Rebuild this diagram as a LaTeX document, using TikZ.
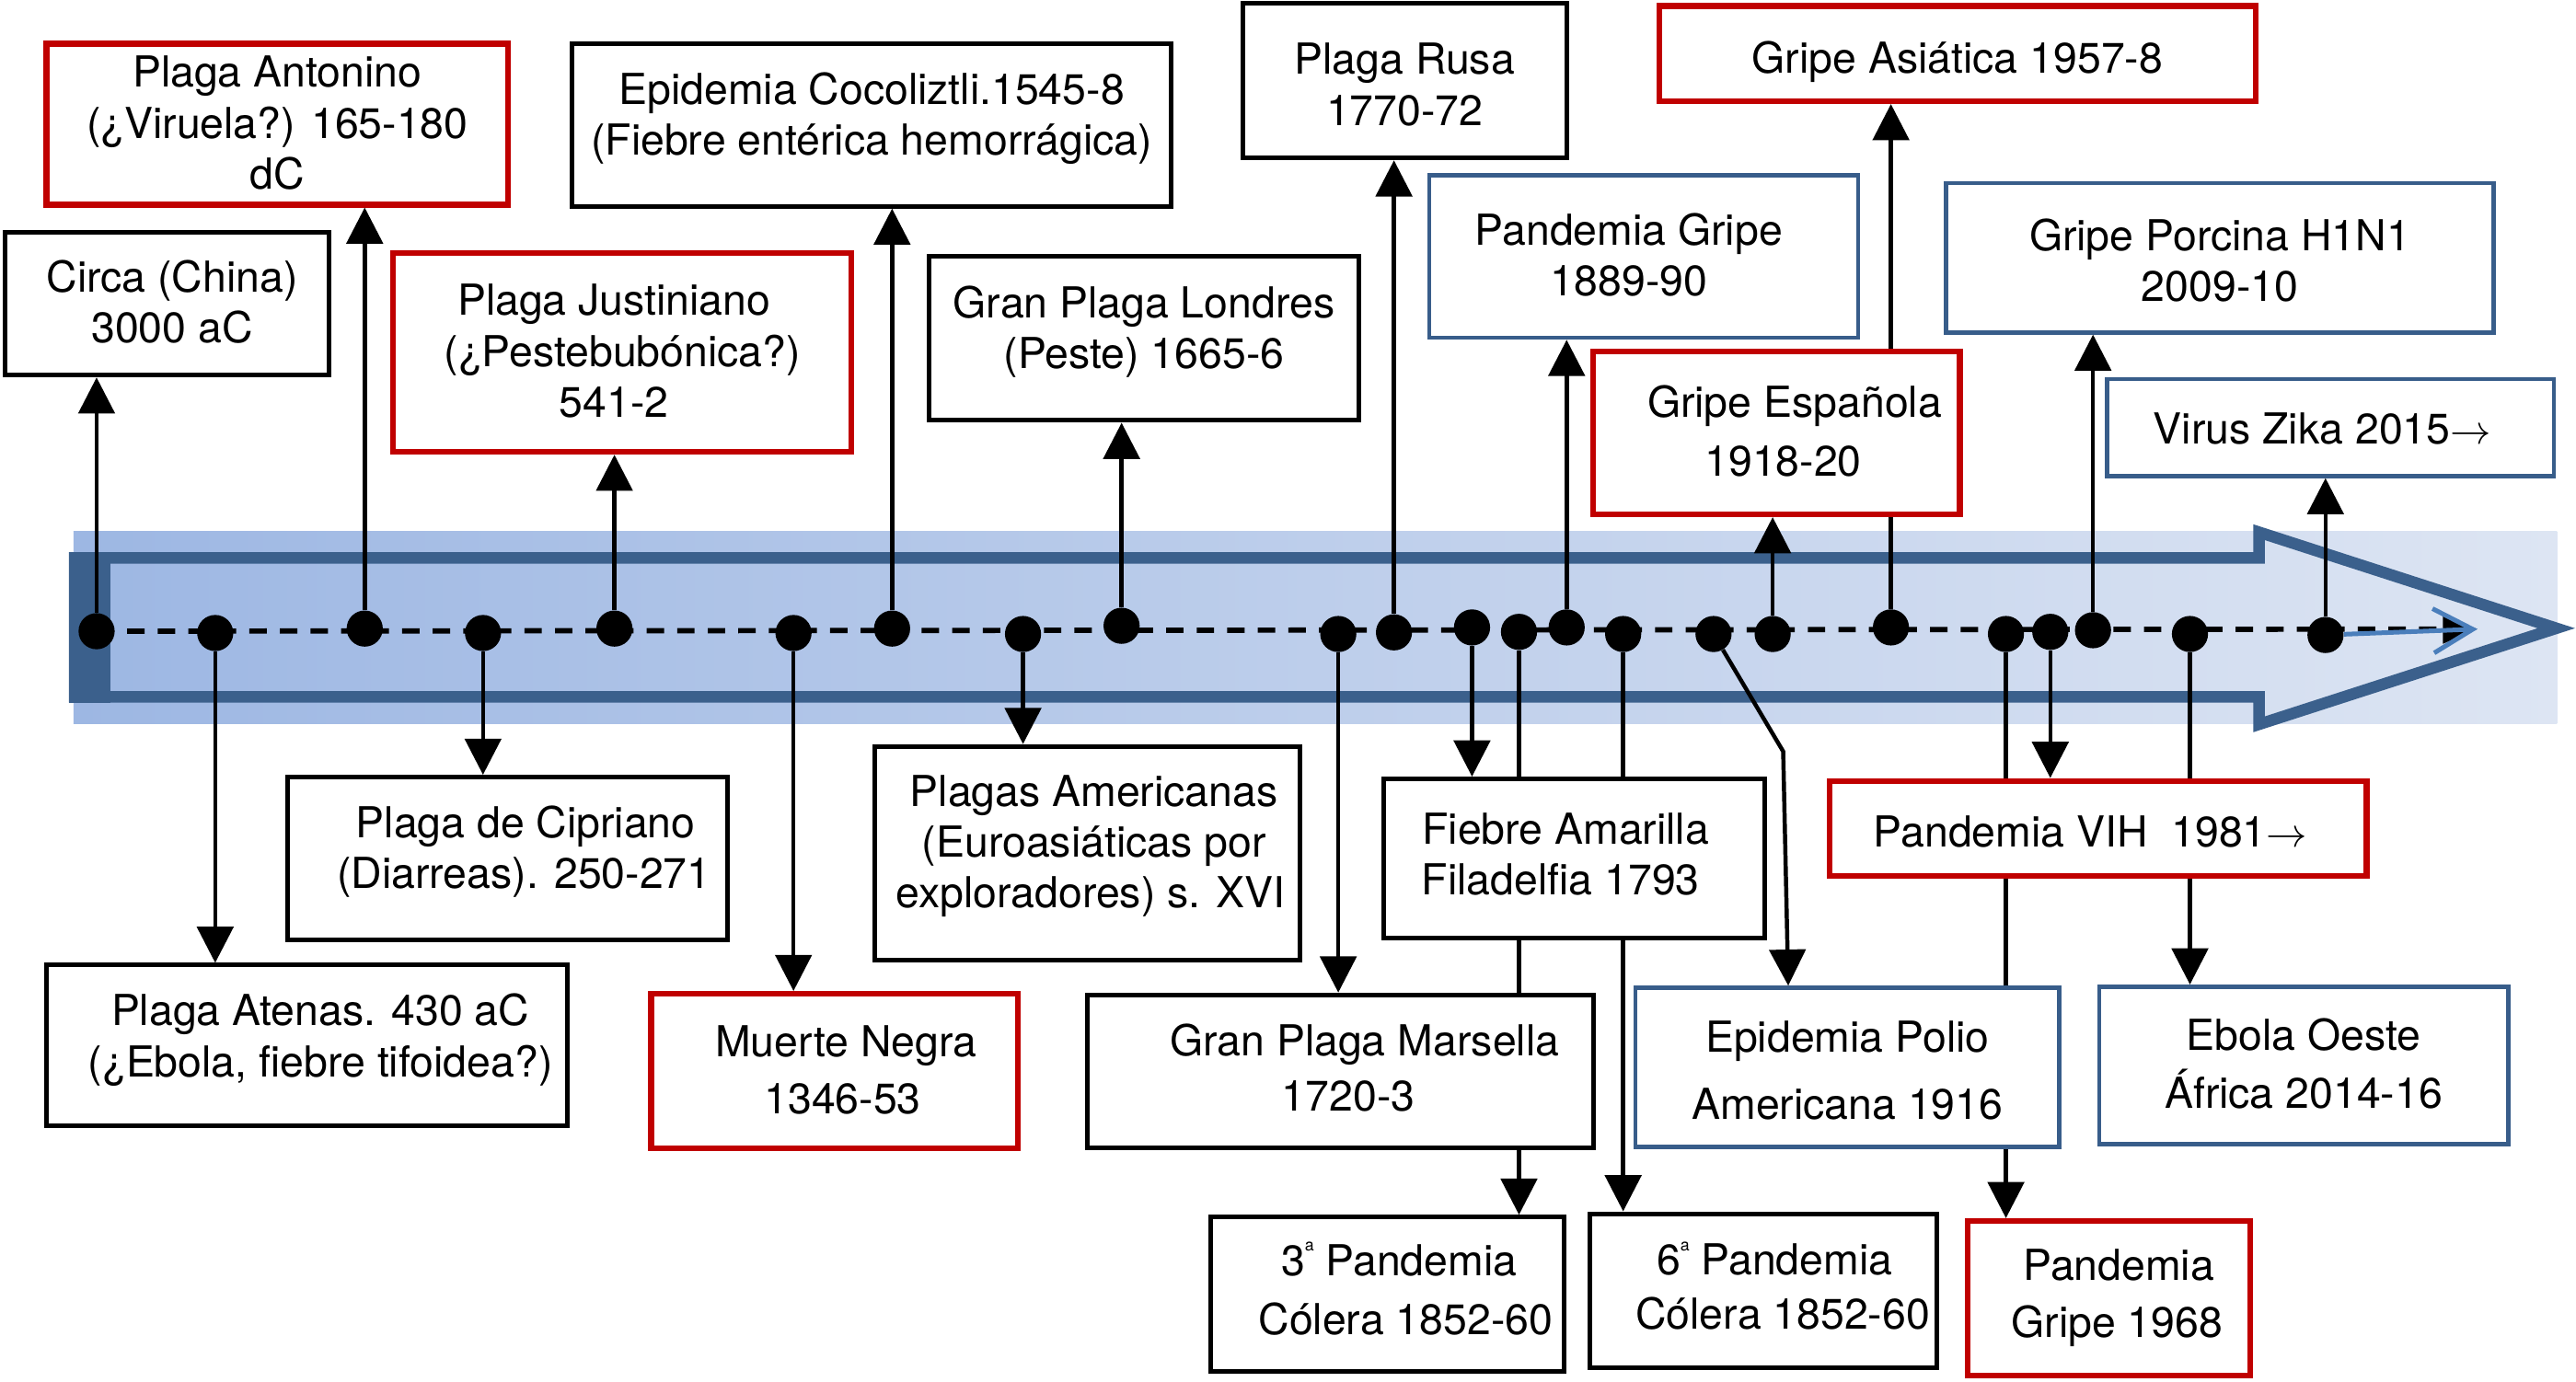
\documentclass[tikz,border=0pt]{standalone}
\usepackage{fontspec}
\setmainfont{TeX Gyre Heros}
\usetikzlibrary{arrows.meta}

\definecolor{plaguered}{RGB}{192,0,0}
\definecolor{flublue}{RGB}{56,93,138}
\definecolor{axisdark}{RGB}{59,96,140}
\definecolor{bandleft}{RGB}{157,183,227}
\definecolor{bandright}{RGB}{221,229,243}
\definecolor{zikaline}{RGB}{74,126,187}

\newcommand{\fwd}{{\fontsize{24}{24}\selectfont$\rightarrow$}}
\newcommand{\ordsup}{\raisebox{15pt}{\fontsize{10}{10}\selectfont a}}
% fixed room above the first line and below the last line of a box
\newcommand{\toppad}[1]{\rule{0pt}{#1pt}}
\newcommand{\botpad}[1]{\rule[-#1pt]{0pt}{0pt}}

\tikzset{
  event/.style={draw, fill=white, align=center, inner sep=0pt, font=\fontsize{26}{31}\selectfont},
  blackevent/.style={event, draw=black, line width=2.8pt},
  redevent/.style={event, draw=plaguered, line width=3.5pt},
  blueevent/.style={event, draw=flublue, line width=2.6pt},
  dot/.style={circle, fill=black, minimum size=22pt, inner sep=0pt},
  link/.style={line width=2.5pt},
  pointer/.style={link, -{Triangle[length=22pt, width=22pt]}}
}

\begin{document}
\begin{tikzpicture}[x=1pt, y=-1pt]
\useasboundingbox (0,0) rectangle (1568,841.4);

% time band and big arrow
\shade[left color=bandleft, right color=bandright] (44.8,323.3) rectangle (1556.4,440.4);
\draw[axisdark, line width=7pt] (45.5,339.7) -- (1375,339.7) -- (1375,324) -- (1556,382.5)
  -- (1375,441) -- (1375,424.3) -- (45.5,424.3) -- cycle;
\fill[axisdark] (42,336.2) rectangle (67,427.8);

% points on the time line
\foreach \n/\x/\y in {pcirca/58.8/384.3, patenas/131/385.4, pantonino/222/382.7,
    pcipriano/294/385.4, pjustiniano/374/382.7, pmuerte/483/385.4,
    pcocoliztli/543/382.7, pamericanas/622.7/386, plondres/682.7/381,
    pmarsella/814.6/386, prusa/848.5/385, pfiebre/896/382, pcolera3/924.6/384.7,
    pgripe1889/953.6/382, pcolera6/988/386, ppolio/1043/386, pespanola/1079/386,
    pasiatica/1151/382, pgripe1968/1221/386, pvih/1248/384.7, pporcina/1274/383.7,
    pebola/1333/386, pzika/1415.5/386.6}
  \node[dot] (\n) at (\x,\y) {};

\coordinate (axisend) at (1508,383);
\draw[line width=3.2pt, dash pattern=on 10.6pt off 8pt, -{Triangle[length=21pt, width=17pt]}]
  (pcirca.center) -- (axisend);
\draw[zikaline, line width=2.8pt, -{Straight Barb[length=24pt, width=27pt]}] (pzika) -- (axisend);

% events above the line
\node[blackevent, minimum width=197pt, minimum height=87pt] (circa) at (101.8,184.9)
  {\toppad{24}\hspace*{6pt}Circa (China)\\\hspace*{6pt}3000 aC\botpad{7}};
\node[redevent, minimum width=281pt, minimum height=98pt] (antonino) at (168.8,75.6)
  {\toppad{24}Plaga Antonino\\(¿Viruela?) 165-180\\dC\botpad{7}};
\node[redevent, minimum width=279pt, minimum height=121pt] (justiniano) at (378.8,214.6)
  {\toppad{24}Plaga Justiniano\hspace*{10pt}\\(¿Pestebubónica?)\hspace*{10pt}\\541-2\hspace*{10pt}\botpad{7}};
\node[blackevent, minimum width=365pt, minimum height=99pt] (cocoliztli) at (530.6,76.1)
  {\toppad{24}Epidemia Cocoliztli.1545-8\\(Fiebre entérica hemorrágica)\botpad{18}};
\node[blackevent, minimum width=262pt, minimum height=100pt] (londres) at (696.3,206)
  {\toppad{24}Gran Plaga Londres\\(Peste) 1665-6\botpad{18}};
\node[blackevent, minimum width=197pt, minimum height=94pt] (rusa) at (855,49.2)
  {\toppad{30}Plaga Rusa\\1770-72\botpad{7}};
\node[blueevent, minimum width=261pt, minimum height=99pt] (gripe1889) at (1000.5,156.1)
  {\toppad{24}Pandemia Gripe\hspace*{18pt}\\1889-90\hspace*{18pt}\botpad{7}};
\node[redevent, minimum width=363pt, minimum height=58pt] (asiatica) at (1191.5,32.6)
  {\toppad{31}Gripe Asiática 1957-8\botpad{7}};
\node[redevent, minimum width=223pt, minimum height=99pt] (espanola) at (1081.4,263.6)
  {\toppad{24}\hspace*{22pt}Gripe Española\\[5pt]\hspace*{8pt}1918-20\botpad{7}};
\node[blueevent, minimum width=333pt, minimum height=91pt] (porcina) at (1351.2,156.9)
  {\toppad{29}Gripe Porcina H1N1\\2009-10\botpad{7}};
\node[blueevent, minimum width=272pt, minimum height=59pt] (zika) at (1418.6,260.3)
  {\toppad{27}Virus Zika 2015\fwd\hspace*{10pt}\botpad{7}};

% events below the line
\node[blackevent, minimum width=268pt, minimum height=99pt] (cipriano) at (309,522.6)
  {\toppad{24}\hspace*{22pt}Plaga de Cipriano\\\hspace*{20pt}(Diarreas). 250-271\botpad{18}};
\node[blackevent, minimum width=317pt, minimum height=98pt] (atenas) at (187,636.6)
  {\toppad{24}\hspace*{16pt}Plaga Atenas. 430 aC\\\hspace*{16pt}(¿Ebola, fiebre tifoidea?)\botpad{17}};
\node[redevent, minimum width=223pt, minimum height=94pt] (muerte) at (507.9,652.1)
  {\toppad{24}\hspace*{14pt}Muerte Negra\\[4pt]\hspace*{10pt}1346-53\botpad{7}};
\node[blackevent, minimum width=259pt, minimum height=130pt] (americanas) at (661.9,519.4)
  {\toppad{24}\hspace*{8pt}Plagas Americanas\\\hspace*{8pt}(Euroasiáticas por\\\hspace*{4pt}exploradores) s. XVI\botpad{19}};
\node[blackevent, minimum width=308pt, minimum height=93pt] (marsella) at (815.7,652.2)
  {\toppad{24}\hspace*{30pt}Gran Plaga Marsella\\[3pt]\hspace*{10pt}1720-3\botpad{9}};
\node[blackevent, minimum width=232pt, minimum height=97pt] (fiebre) at (958,522.7)
  {\toppad{24}Fiebre Amarilla\hspace*{10pt}\\Filadelfia 1793\hspace*{16pt}\botpad{11}};
\node[blackevent, minimum width=215pt, minimum height=94pt] (colera3) at (844.6,788)
  {\toppad{24}\hspace*{14pt}3\ordsup{} Pandemia\\[5pt]\hspace*{22pt}Cólera 1852-60\botpad{11}};
\node[blackevent, minimum width=211pt, minimum height=94pt] (colera6) at (1073.2,785.9)
  {\toppad{24}\hspace*{14pt}6\ordsup{} Pandemia\\[2pt]\hspace*{24pt}Cólera 1852-60\botpad{10}};
\node[blueevent, minimum width=258pt, minimum height=97pt] (polio) at (1124.5,649.9)
  {\toppad{29}Epidemia Polio\\[10pt]Americana 1916\botpad{7}};
\node[redevent, minimum width=327pt, minimum height=58pt] (vih) at (1277,504.4)
  {\toppad{29}Pandemia VIH\ \ 1981\fwd\hspace*{9pt}\botpad{7}};
\node[blueevent, minimum width=249pt, minimum height=96pt] (ebola) at (1402.2,648.7)
  {\toppad{24}Ebola Oeste\\[4pt]África 2014-16\botpad{7}};
\node[redevent, minimum width=172pt, minimum height=94pt] (gripe1968) at (1283.7,790.4)
  {\toppad{24}\hspace*{12pt}Pandemia\\[4pt]\hspace*{10pt}Gripe 1968\botpad{11}};

% connectors up
\draw[pointer] (pcirca) -- (pcirca |- circa.south);
\draw[pointer] (pantonino) -- (pantonino |- antonino.south);
\draw[pointer] (pjustiniano) -- (pjustiniano |- justiniano.south);
\draw[pointer] (pcocoliztli) -- (pcocoliztli |- cocoliztli.south);
\draw[pointer] (plondres) -- (plondres |- londres.south);
\draw[pointer] (prusa) -- (prusa |- rusa.south);
\draw[pointer] (pgripe1889) -- (pgripe1889 |- gripe1889.south);
\draw[pointer] (pespanola) -- (pespanola |- espanola.south);
\draw[link] (pasiatica) -- (pasiatica |- espanola.south);
\draw[pointer] (pasiatica |- espanola.north) -- (pasiatica |- asiatica.south);
\draw[pointer] (pporcina) -- (pporcina |- porcina.south);
\draw[pointer] (pzika) -- (pzika |- zika.south);

% connectors down
\draw[pointer] (patenas) -- (patenas |- atenas.north);
\draw[pointer] (pcipriano) -- (pcipriano |- cipriano.north);
\draw[pointer] (pmuerte) -- (pmuerte |- muerte.north);
\draw[pointer] (pamericanas) -- (pamericanas |- americanas.north);
\draw[pointer] (pmarsella) -- (pmarsella |- marsella.north);
\draw[pointer] (pfiebre) -- (pfiebre |- fiebre.north);
\draw[link] (pcolera3) -- (pcolera3 |- fiebre.north);
\draw[link] (pcolera3 |- fiebre.south) -- (pcolera3 |- marsella.north);
\draw[pointer] (pcolera3 |- marsella.south) -- (pcolera3 |- colera3.north);
\draw[link] (pcolera6) -- (pcolera6 |- fiebre.north);
\draw[pointer] (pcolera6 |- fiebre.south) -- (pcolera6 |- colera6.north);
\coordinate (poliobend) at (1085.4,457.5);
\draw[pointer] (ppolio) -- (poliobend) -- ([xshift=-36pt]polio.north);
\draw[link] (pgripe1968) -- (pgripe1968 |- vih.north);
\draw[link] (pgripe1968 |- vih.south) -- (pgripe1968 |- polio.north);
\draw[pointer] (pgripe1968 |- polio.south) -- (pgripe1968 |- gripe1968.north);
\draw[pointer] (pvih) -- (pvih |- vih.north);
\draw[link] (pebola) -- (pebola |- vih.north);
\draw[pointer] (pebola |- vih.south) -- (pebola |- ebola.north);
\end{tikzpicture}
\end{document}
